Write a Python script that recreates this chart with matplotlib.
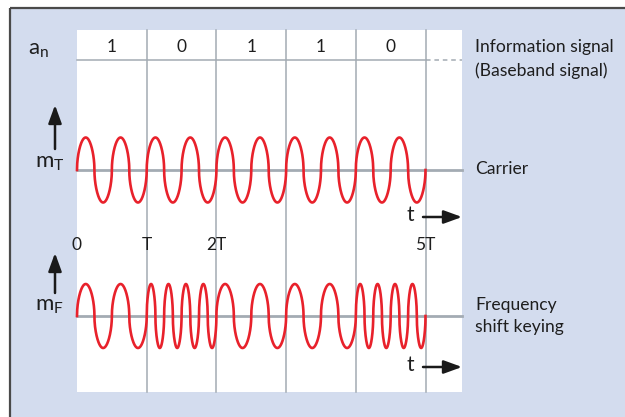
import numpy as np
import matplotlib
matplotlib.use("Agg")
import matplotlib.pyplot as plt
from matplotlib.patches import Rectangle

plt.rcParams['font.family'] = ['Lato', 'DejaVu Sans']
plt.rcParams['mathtext.fontset'] = 'custom'
plt.rcParams['mathtext.rm'] = 'Lato'
plt.rcParams['mathtext.it'] = 'Lato'

# ---- data ----
bits = [1, 0, 1, 1, 0]
bit_labels = ["1", "0", "1", "1", "0"]
carrier_cycles_per_T = 2
fsk_cycles = {1: 2, 0: 4}
time_ticks = [0, 1, 2, 5]
time_tick_labels = ["0", "T", "2T", "5T"]
right_labels = ["Information signal", "(Baseband signal)", "Carrier", "Frequency", "shift keying"]

# ---- layout (x in units of T, y in pixel rows) ----
PX_T = 69.7
X0 = 77.0
def tx(px):
    return (px - X0) / PX_T

BG = "#d3dcee"
RED = "#e8212b"
GRAY = "#a3abb3"
TXT = "#1e1e1e"

fig = plt.figure(figsize=(6.25, 4.17), dpi=100)
fig.patch.set_facecolor("white")
ax = fig.add_axes([0, 0, 1, 1])
ax.set_xlim(tx(0), tx(625))
ax.set_ylim(417, 0)
ax.axis("off")

# outer blue area with border
ax.add_patch(Rectangle((tx(10), 7.5), tx(700) - tx(10), 500, facecolor=BG, edgecolor="none", zorder=0))
ax.plot([tx(10), tx(625)], [7.5, 7.5], color="#4a4a4a", lw=1.6, zorder=1, solid_capstyle="butt")
ax.plot([tx(10), tx(10)], [7.5, 417], color="#4a4a4a", lw=1.6, zorder=1, solid_capstyle="butt")

# white panel
t_end_panel = tx(462)
ax.add_patch(Rectangle((0, 30), t_end_panel, 362, facecolor="white", edgecolor="none", zorder=1))

# vertical grid lines
for k in range(1, 6):
    ax.plot([k, k], [30, 392], color=GRAY, lw=1.1, zorder=2)

# bit row separator
ax.plot([0, 5], [60, 60], color=GRAY, lw=1.1, zorder=2)
ax.plot([5, t_end_panel], [60, 60], color=GRAY, lw=1.1, ls=(0, (3, 2.5)), zorder=2)
for i, lab in enumerate(bit_labels):
    ax.text(i + 0.5, 47, lab, ha="center", va="center", fontsize=12.5, color=TXT, zorder=3)

# baselines
ax.plot([0, t_end_panel], [170, 170], color=GRAY, lw=2.0, zorder=2)
ax.plot([0, t_end_panel], [316, 316], color=GRAY, lw=2.0, zorder=2)

def shape(phase):
    s = np.sin(phase)
    return np.sign(s) * np.abs(s) ** 0.5

# carrier
t = np.linspace(0, len(bits), 3000)
carrier = shape(2 * np.pi * carrier_cycles_per_T * t)
ax.plot(t, 170 - 32.5 * carrier, color=RED, lw=1.9, zorder=4)

# FSK
ts, ys = [], []
for i, b in enumerate(bits):
    tt = np.linspace(i, i + 1, 600)
    ts.append(tt)
    ys.append(shape(2 * np.pi * fsk_cycles[b] * (tt - i)))
ts = np.concatenate(ts)
ys = np.concatenate(ys)
ax.plot(ts, 316 - 32 * ys, color=RED, lw=1.9, zorder=4)

# time tick labels
for tk, lab in zip(time_ticks, time_tick_labels):
    ax.text(tk, 245, lab, ha="center", va="center", fontsize=12.5, color=TXT, zorder=3)

AST = "-|>,head_length=1.1,head_width=0.4"
# t arrows
for yy, ylab in [(217, 215), (367, 365)]:
    ax.text(tx(410), ylab, "t", ha="center", va="center", fontsize=15, color=TXT, zorder=3)
    ax.annotate("", xy=(tx(462), yy), xytext=(tx(423), yy),
                arrowprops=dict(arrowstyle=AST, color="#1a1a1a", lw=1.8, shrinkA=0, shrinkB=0), zorder=5)

# up arrows
for ytop, ybot in [(105, 149), (253, 293)]:
    ax.annotate("", xy=(tx(55), ytop), xytext=(tx(55), ybot),
                arrowprops=dict(arrowstyle=AST, color="#1a1a1a", lw=1.8, shrinkA=0, shrinkB=0), zorder=5)

# axis names
ax.text(tx(28), 50, r"a$_{\mathrm{n}}$", ha="left", va="center", fontsize=16, color=TXT)
ax.text(tx(35), 163, r"m$_{\mathrm{T}}$", ha="left", va="center", fontsize=16, color=TXT)
ax.text(tx(35), 306, r"m$_{\mathrm{F}}$", ha="left", va="center", fontsize=16, color=TXT)

# right labels
for lab, yy in zip(right_labels, [47, 71, 169, 305, 327]):
    ax.text(tx(475), yy, lab, ha="left", va="center", fontsize=12.6, color=TXT)

fig.savefig("out.png", dpi=100, facecolor=fig.get_facecolor())
